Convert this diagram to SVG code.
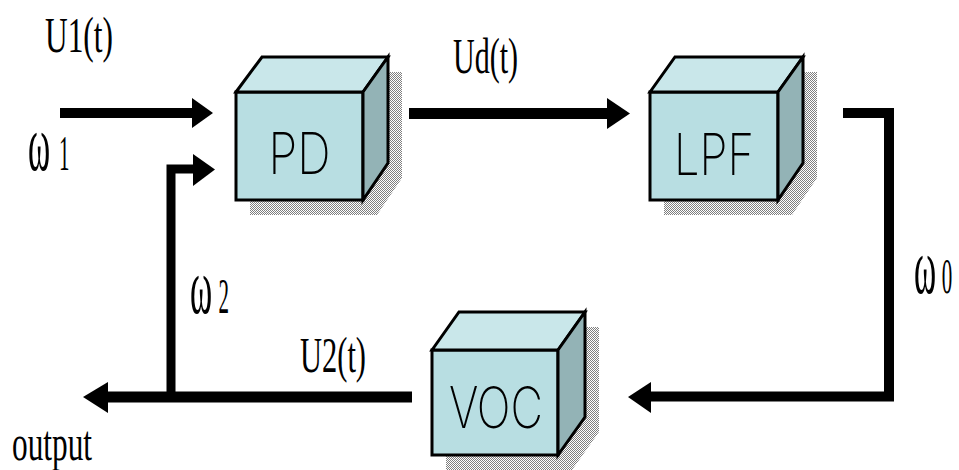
<svg xmlns="http://www.w3.org/2000/svg" width="959" height="470" viewBox="0 0 959 470">
  <defs>
    <!-- 50% dither used for the drop shadows behind the blocks -->
    <pattern id="dither" width="2" height="2" patternUnits="userSpaceOnUse">
      <rect x="0" y="0" width="1" height="1" fill="#7f7f7f"/>
      <rect x="1" y="1" width="1" height="1" fill="#7f7f7f"/>
    </pattern>
  </defs>
  <style>
    .shadow { fill: url(#dither); }
    .front { fill: #B8DEE2; stroke: #000; stroke-width: 3; stroke-linejoin: miter; }
    .top { fill: #C9E7EA; stroke: #000; stroke-width: 3; stroke-linejoin: miter; }
    .side { fill: #93B3B6; stroke: #000; stroke-width: 3; stroke-linejoin: miter; }
    .name { font-family: Inter, "Liberation Sans", Arial, sans-serif; font-weight: 200; font-size: 57px; fill: #000; text-anchor: middle; }
    .lbl { font-family: "Liberation Serif", "Times New Roman", serif; font-size: 50px; fill: #000; }
    .om { font-size: 80px; }
    .wire { fill: none; stroke: #000; stroke-linejoin: miter; stroke-linecap: butt; }
    .head { fill: #000; }
  </style>

  <rect width="959" height="470" fill="#fff"/>

  <!-- Phase detector -->
  <g id="pd">
    <polygon class="shadow" points="250,107 276,72 402,72 402,178 377,215 250,215"/>
    <rect class="front" x="236" y="92" width="127" height="108"/>
    <polygon class="top" points="236,92 262,57 388,57 363,92"/>
    <polygon class="side" points="363,92 388,57 388,163 363,200"/>
    <text class="name" x="299.5" y="174" textLength="62" lengthAdjust="spacingAndGlyphs">PD</text>
  </g>

  <!-- Low-pass filter -->
  <g id="lpf">
    <polygon class="shadow" points="664,107 689,72 817,72 817,178 792,215 664,215"/>
    <rect class="front" x="650" y="92" width="128" height="108"/>
    <polygon class="top" points="650,92 675,57 803,57 778,92"/>
    <polygon class="side" points="778,92 803,57 803,163 778,200"/>
    <text class="name" x="714" y="175" textLength="80" lengthAdjust="spacingAndGlyphs">LPF</text>
  </g>

  <!-- Voltage-controlled oscillator -->
  <g id="voc">
    <polygon class="shadow" points="446,365 473,327 599,327 599,432 572,470 446,470"/>
    <rect class="front" x="432" y="350" width="126" height="105"/>
    <polygon class="top" points="432,350 459,312 585,312 558,350"/>
    <polygon class="side" points="558,350 585,312 585,417 558,455"/>
    <text class="name" x="496" y="428" textLength="94" lengthAdjust="spacingAndGlyphs">VOC</text>
  </g>

  <!-- Signal paths -->
  <g id="connectors">
    <!-- input U1(t) into PD -->
    <line class="wire" x1="60" y1="113" x2="194" y2="113" stroke-width="10"/>
    <polygon class="head" points="192,98 213,113 192,128"/>
    <!-- PD to LPF -->
    <line class="wire" x1="409" y1="113.5" x2="609" y2="113.5" stroke-width="11"/>
    <polygon class="head" points="607,98 630,113.5 607,129"/>
    <!-- LPF around to VOC -->
    <path class="wire" d="M843,113 H889 V396.5 H648" stroke-width="10"/>
    <polygon class="head" points="651,382 628,397 651,413"/>
    <!-- VOC to output -->
    <line class="wire" x1="412" y1="397" x2="105" y2="397" stroke-width="11"/>
    <polygon class="head" points="108,382 83,397 108,413"/>
    <!-- feedback branch into PD -->
    <path class="wire" d="M171,397 V169 H196" stroke-width="9"/>
    <polygon class="head" points="193,154 215,169.5 193,186"/>
  </g>

  <!-- Signal labels (narrow condensed lettering via horizontal scale) -->
  <g id="labels">
    <text class="lbl" x="45" y="52" textLength="68" lengthAdjust="spacingAndGlyphs">U1(t)</text>
    <text class="lbl" x="453" y="73" textLength="65" lengthAdjust="spacingAndGlyphs">Ud(t)</text>
    <text class="lbl" x="300" y="372" textLength="66" lengthAdjust="spacingAndGlyphs">U2(t)</text>
    <text class="lbl" transform="translate(28,170) scale(0.42,1)"><tspan class="om">ω</tspan><tspan x="74">1</tspan></text>
    <text class="lbl" transform="translate(190,313) scale(0.42,1)"><tspan class="om">ω</tspan><tspan x="68">2</tspan></text>
    <text class="lbl" transform="translate(914,293) scale(0.42,1)"><tspan class="om">ω</tspan><tspan x="66">0</tspan></text>
    <text class="lbl" x="12" y="460" font-size="34" textLength="80" lengthAdjust="spacingAndGlyphs">output</text>
  </g>
</svg>
